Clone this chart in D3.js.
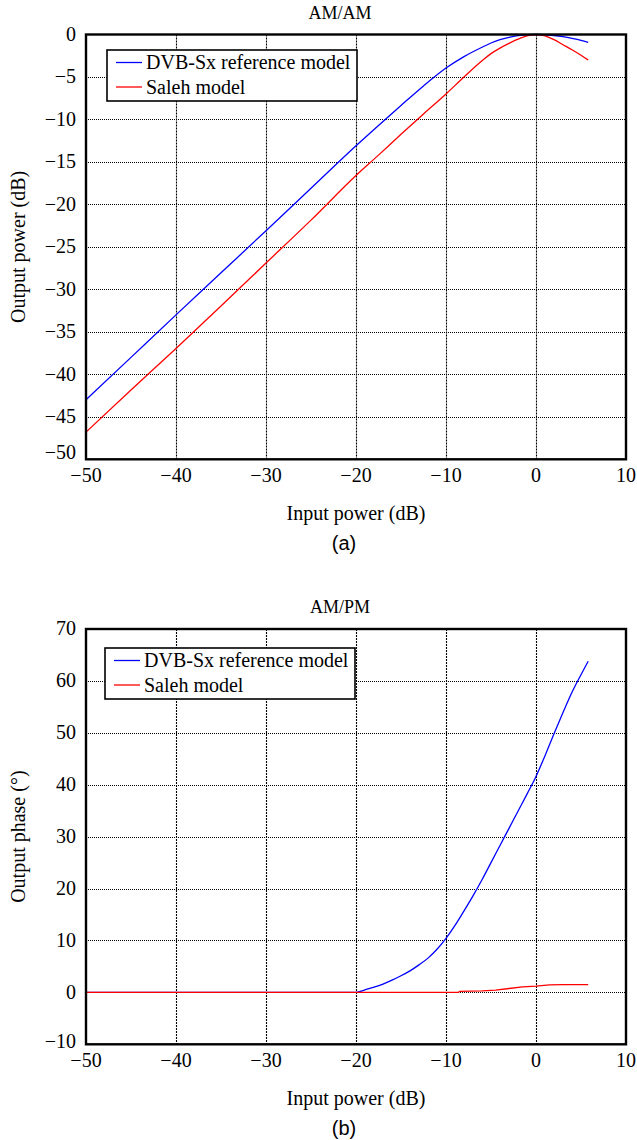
<!DOCTYPE html>
<html>
<head>
<meta charset="utf-8">
<script src="https://cdn.jsdelivr.net/npm/d3@7"></script>
<style>
  body { margin: 0; background: #fff; }
  svg { display: block; }
  text { font-family: "Liberation Serif", "Times New Roman", serif; fill: #000; }
  .sub { font-family: "Liberation Sans", Arial, sans-serif; }
</style>
</head>
<body>
<div id="chart"></div>
<script>
// AM/AM panel
var amamInput = [-50, -45, -40, -35, -30, -25, -20, -17.5, -15, -12.5, -10, -8, -6, -5, -4, -3, -2, -1, 0, 1, 2, 3, 4, 5, 5.8];
var amamDvb = [-43.0, -38.0, -33.0, -28.05, -23.1, -18.1, -13.1, -10.7, -8.35, -6.05, -3.95, -2.6, -1.5, -1.0, -0.6, -0.33, -0.14, -0.03, 0, -0.03, -0.12, -0.26, -0.45, -0.68, -0.92];
var amamSaleh = [-46.8, -41.85, -36.95, -31.95, -26.9, -21.85, -16.6, -14.2, -11.75, -9.35, -7.0, -5.0, -3.1, -2.25, -1.6, -1.05, -0.55, -0.16, 0, -0.16, -0.6, -1.2, -1.8, -2.45, -3.0];

// AM/PM panel
var ampmDvbInput = [-50, -40, -30, -20, -19, -18, -17, -16, -15, -14, -13, -12, -11, -10, -9, -8, -7, -6, -5, -4, -3, -2, -1, 0, 1, 2, 3, 4, 5, 5.8];
var ampmDvb = [0, 0, 0, 0, 0.5, 1.0, 1.6, 2.35, 3.2, 4.15, 5.3, 6.6, 8.3, 10.4, 12.9, 15.7, 18.6, 21.7, 25.0, 28.3, 31.6, 34.9, 38.2, 41.6, 45.6, 49.8, 53.9, 57.8, 61.2, 63.8];
var ampmSalehInput = [-50, -8.6, -8.5, -6, -4.5, -3, -1.5, 0, 1.5, 3, 5.8];
var ampmSaleh = [0, 0, 0.2, 0.3, 0.45, 0.75, 1.05, 1.2, 1.45, 1.5, 1.5];

var xTicks = [-50, -40, -30, -20, -10, 0, 10];
var amamTicks = [0, -5, -10, -15, -20, -25, -30, -35, -40, -45, -50];
var ampmTicks = [70, 60, 50, 40, 30, 20, 10, 0, -10];
var seriesNames = ["DVB-Sx reference model", "Saleh model"];
var seriesColors = ["#0000ff", "#ff0000"];

var width = 637;
var height = 1140;

var svg = d3.select('#chart')
    .append('svg')
    .attr('width', width)
    .attr('height', height);

function fmt(v) {
    return v < 0 ? '\u2212' + Math.abs(v) : String(v);
}

function drawPanel(options) {
    var top = options.top;
    var bottom = options.bottom;
    var left = 86;
    var right = 626;

    var x = d3.scaleLinear().domain([-50, 10]).range([left, right]);
    var y = d3.scaleLinear().domain(options.yDomain).range([bottom, top]);

    var g = svg.append('g');

    // grid, dotted black
    g.selectAll('.vgrid')
        .data(xTicks.slice(1, -1))
        .enter().append('line')
        .attr('x1', function (d) { return Math.round(x(d)) + 0.5; })
        .attr('x2', function (d) { return Math.round(x(d)) + 0.5; })
        .attr('y1', top)
        .attr('y2', bottom)
        .attr('stroke', '#000')
        .attr('stroke-width', 1.1)
        .attr('stroke-dasharray', '2,1');

    g.selectAll('.hgrid')
        .data(options.yTicks.filter(function (d) {
            return d !== options.yDomain[0] && d !== options.yDomain[1];
        }))
        .enter().append('line')
        .attr('x1', left)
        .attr('x2', right)
        .attr('y1', function (d) { return Math.round(y(d)) + 0.5; })
        .attr('y2', function (d) { return Math.round(y(d)) + 0.5; })
        .attr('stroke', '#000')
        .attr('stroke-width', 1)
        .attr('stroke-dasharray', '1,1');

    // curves
    options.series.forEach(function (s, i) {
        var line = d3.line()
            .curve(s.smooth ? d3.curveMonotoneX : d3.curveLinear)
            .x(function (d) { return x(d[0]); })
            .y(function (d) { return y(d[1]); });
        g.append('path')
            .attr('d', line(d3.zip(s.xs, s.ys)))
            .attr('fill', 'none')
            .attr('stroke', seriesColors[i])
            .attr('stroke-width', 1.3);
    });

    // frame
    g.append('rect')
        .attr('x', left)
        .attr('y', top)
        .attr('width', right - left)
        .attr('height', bottom - top)
        .attr('fill', 'none')
        .attr('stroke', '#000')
        .attr('stroke-width', 2.4);

    // tick labels
    g.selectAll('.xlab')
        .data(xTicks)
        .enter().append('text')
        .attr('x', function (d) { return x(d); })
        .attr('y', bottom + 16)
        .attr('dy', '0.35em')
        .attr('text-anchor', 'middle')
        .style('font-size', '20px')
        .text(fmt);

    g.selectAll('.ylab')
        .data(options.yTicks)
        .enter().append('text')
        .attr('x', left - 10)
        .attr('y', function (d) {
            return d === options.yDomain[0] ? y(d) - options.lowShift : y(d);
        })
        .attr('dy', '0.32em')
        .attr('text-anchor', 'end')
        .style('font-size', '20px')
        .text(fmt);

    // titles
    g.append('text')
        .attr('x', 340)
        .attr('y', top - 22)
        .attr('dy', '0.35em')
        .attr('text-anchor', 'middle')
        .style('font-size', '18px')
        .text(options.title);

    g.append('text')
        .attr('x', (left + right) / 2)
        .attr('y', bottom + 54)
        .attr('dy', '0.35em')
        .attr('text-anchor', 'middle')
        .style('font-size', '20px')
        .text('Input power (dB)');

    g.append('text')
        .attr('transform', 'translate(18,' + ((top + bottom) / 2) + ') rotate(-90)')
        .attr('dy', '0.35em')
        .attr('text-anchor', 'middle')
        .style('font-size', '20px')
        .text(options.yLabel);

    g.append('text')
        .attr('class', 'sub')
        .attr('x', 344)
        .attr('y', bottom + 84)
        .attr('dy', '0.35em')
        .attr('text-anchor', 'middle')
        .style('font-size', '20px')
        .text(options.sub);

    // legend
    var lg = g.append('g')
        .attr('transform', 'translate(' + options.legend[0] + ',' + options.legend[1] + ')');

    lg.append('rect')
        .attr('x', 0)
        .attr('y', 0)
        .attr('width', 250)
        .attr('height', 51)
        .attr('fill', '#fff')
        .attr('stroke', '#000')
        .attr('stroke-width', 1.6);

    var keys = lg.selectAll('.key')
        .data(seriesNames)
        .enter().append('g')
        .attr('transform', function (d, i) {
            return 'translate(0,' + (12.5 + i * 24.5) + ')';
        });

    keys.append('line')
        .attr('x1', 9)
        .attr('x2', 35)
        .attr('stroke', function (d, i) { return seriesColors[i]; })
        .attr('stroke-width', 1.3);

    keys.append('text')
        .attr('x', 39)
        .attr('dy', '0.33em')
        .style('font-size', '20px')
        .text(function (d) { return d; });
}

drawPanel({
    top: 34.5,
    bottom: 459.3,
    yDomain: [-50, 0],
    yTicks: amamTicks,
    lowShift: 7,
    title: 'AM/AM',
    yLabel: 'Output power (dB)',
    sub: '(a)',
    legend: [107, 50],
    series: [
        { xs: amamInput, ys: amamDvb, smooth: true },
        { xs: amamInput, ys: amamSaleh, smooth: true }
    ]
});

drawPanel({
    top: 629,
    bottom: 1044.3,
    yDomain: [-10, 70],
    yTicks: ampmTicks,
    lowShift: 3,
    title: 'AM/PM',
    yLabel: 'Output phase (\u00b0)',
    sub: '(b)',
    legend: [105, 648],
    series: [
        { xs: ampmDvbInput, ys: ampmDvb, smooth: true },
        { xs: ampmSalehInput, ys: ampmSaleh, smooth: false }
    ]
});
</script>
</body>
</html>
